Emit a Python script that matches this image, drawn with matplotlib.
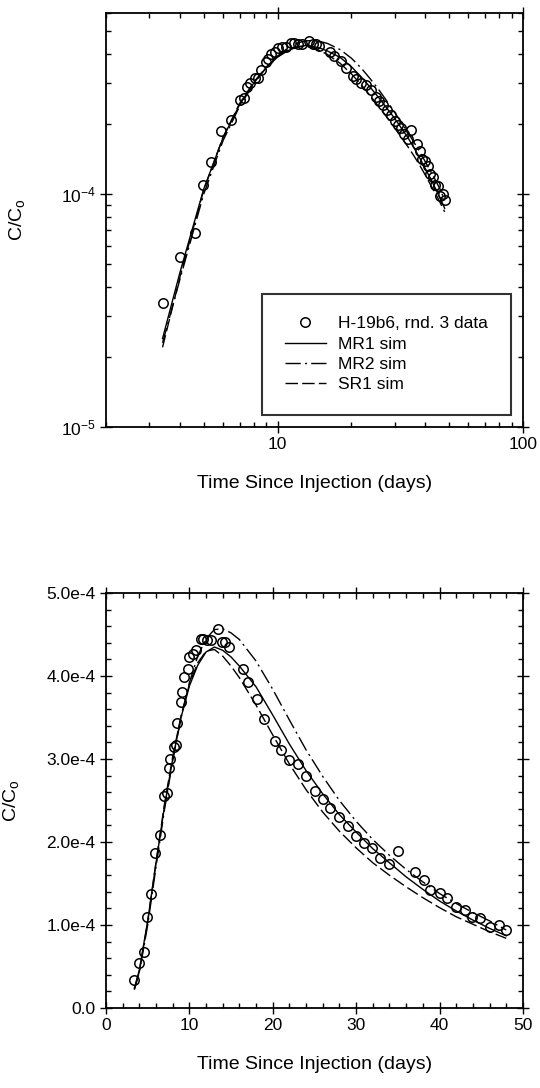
import numpy as np
import matplotlib
matplotlib.use('Agg')
import matplotlib.pyplot as plt
from matplotlib.ticker import FixedLocator, FuncFormatter, LogLocator, NullFormatter, MultipleLocator

plt.rcParams['font.family'] = ['Liberation Sans', 'DejaVu Sans']
plt.rcParams['mathtext.fontset'] = 'custom'
plt.rcParams['mathtext.rm'] = 'Liberation Sans'
plt.rcParams['mathtext.it'] = 'Liberation Sans:italic'

# measured data (C/Co in units of 1e-4)
t_data = [3.4, 4.0, 4.6, 4.96, 5.37, 5.87, 6.49, 7.0, 7.3, 7.5,
          7.7, 8.1, 8.35, 8.55, 8.97, 9.17, 9.38, 9.8, 10.0, 10.4,
          10.8, 11.4, 11.65, 12.07, 12.56, 13.4, 13.9, 14.3, 14.75, 16.4,
          17.0, 18.06, 19.0, 20.3, 20.95, 21.9, 23.0, 23.97, 25.1, 26.0,
          26.9, 28.0, 29.0, 30.0, 30.9, 31.9, 32.9, 34.0, 35.0, 37.1,
          38.1, 38.9, 40.0, 40.9, 42.0, 43.1, 43.9, 44.9, 46.0, 47.1, 48.0]
c_data = [0.34, 0.54, 0.68, 1.10, 1.38, 1.87, 2.09, 2.55, 2.59, 2.89,
          3.00, 3.15, 3.17, 3.43, 3.69, 3.81, 3.99, 4.09, 4.23, 4.27,
          4.31, 4.45, 4.45, 4.43, 4.43, 4.57, 4.41, 4.41, 4.35, 4.09,
          3.93, 3.72, 3.48, 3.22, 3.11, 2.99, 2.94, 2.80, 2.62, 2.52,
          2.41, 2.30, 2.19, 2.07, 1.99, 1.93, 1.81, 1.73, 1.89, 1.64,
          1.54, 1.42, 1.39, 1.32, 1.22, 1.18, 1.10, 1.08, 0.98, 1.00, 0.94]

# simulations
t_sim = [3.4, 4, 5, 6, 7, 8, 9, 10, 11, 12, 13, 14, 15, 16, 18, 20,
         22, 24, 26, 28, 30, 32, 34, 36, 38, 40, 42, 44, 46, 48]
mr1 = [0.24, 0.46, 1.05, 1.75, 2.42, 3.00, 3.50, 3.88, 4.13, 4.29, 4.35, 4.31, 4.23, 4.12, 3.87, 3.53,
       3.18, 2.86, 2.58, 2.33, 2.12, 1.92, 1.75, 1.58, 1.43, 1.29, 1.17, 1.06, 0.96, 0.87]
mr2 = [0.23, 0.43, 1.00, 1.70, 2.38, 2.98, 3.50, 3.92, 4.24, 4.45, 4.56, 4.57, 4.52, 4.44, 4.18, 3.84,
       3.47, 3.11, 2.79, 2.50, 2.25, 2.03, 1.84, 1.67, 1.52, 1.38, 1.26, 1.15, 1.05, 0.94]
sr1 = [0.22, 0.44, 1.04, 1.76, 2.45, 3.03, 3.52, 3.90, 4.16, 4.30, 4.32, 4.24, 4.12, 3.98, 3.65, 3.29,
       2.94, 2.63, 2.36, 2.13, 1.93, 1.75, 1.60, 1.46, 1.33, 1.21, 1.10, 1.01, 0.92, 0.84]

labels = ['H-19b6, rnd. 3 data', 'MR1 sim', 'MR2 sim', 'SR1 sim']

scale = 1e-4
td = np.array(t_data)
cd = np.array(c_data) * scale
ts = np.array(t_sim)


def draw(ax):
    ax.plot(ts, np.array(mr1) * scale, color='black', lw=1.0, label=labels[1])
    ax.plot(ts, np.array(mr2) * scale, color='black', lw=1.0, dashes=(11, 3, 1.5, 3), label=labels[2])
    ax.plot(ts, np.array(sr1) * scale, color='black', lw=1.0, dashes=(9, 3), label=labels[3])
    ax.plot(td, cd, 'o', mfc='none', mec='black', mew=1.1, ms=6.8, label=labels[0])
    for s in ax.spines.values():
        s.set_linewidth(1.3)
    ax.tick_params(which='both', top=True, right=True, labelsize=12.5, width=1.0)
    ax.tick_params(which='major', direction='inout', length=8)
    ax.tick_params(which='minor', direction='in', length=3.5)


fig = plt.figure(figsize=(5.4, 10.88), dpi=100)

# top panel: log-log
ax1 = fig.add_axes([0.1963, 0.6075, 0.772, 0.3805])
draw(ax1)
ax1.set_xscale('log')
ax1.set_yscale('log')
ax1.set_xlim(2, 100)
ax1.set_ylim(1e-5, 6e-4)
ax1.xaxis.set_major_locator(FixedLocator([10, 100]))
ax1.xaxis.set_major_formatter(FuncFormatter(lambda v, p: '%d' % v))
ax1.xaxis.set_minor_locator(LogLocator(base=10, subs=np.arange(2, 10)))
ax1.xaxis.set_minor_formatter(NullFormatter())
ax1.yaxis.set_major_locator(FixedLocator([1e-5, 1e-4]))
ax1.yaxis.set_major_formatter(FuncFormatter(lambda v, p: r'$10^{%d}$' % round(np.log10(v))))
ax1.yaxis.set_minor_locator(LogLocator(base=10, subs=np.arange(2, 10)))
ax1.yaxis.set_minor_formatter(NullFormatter())
ax1.set_xlabel('Time Since Injection (days)', fontsize=14, labelpad=16)
ax1.set_ylabel(r'C/C$_{\mathrm{o}}$', fontsize=14)
ax1.yaxis.set_label_coords(-0.19, 0.5)

h, l = ax1.get_legend_handles_labels()
order = [3, 0, 1, 2]
leg = ax1.legend([h[i] for i in order], [l[i] for i in order], loc='lower right',
                 bbox_to_anchor=(0.971, 0.029), fontsize=12.5, frameon=True, fancybox=False,
                 edgecolor='black', borderpad=1.3, labelspacing=0.3, handlelength=2.4,
                 handletextpad=0.7, numpoints=1, borderaxespad=0)
leg.get_frame().set_linewidth(1.5)

# bottom panel: linear
ax2 = fig.add_axes([0.1963, 0.0735, 0.772, 0.3814])
draw(ax2)
ax2.set_xlim(0, 50)
ax2.set_ylim(0, 5e-4)
ax2.xaxis.set_major_locator(MultipleLocator(10))
ax2.xaxis.set_minor_locator(MultipleLocator(2))
ax2.yaxis.set_major_locator(MultipleLocator(1e-4))
ax2.yaxis.set_minor_locator(MultipleLocator(0.2e-4))
ax2.yaxis.set_major_formatter(FuncFormatter(lambda v, p: '0.0' if v == 0 else '%.1fe-4' % (v / 1e-4)))
ax2.set_xlabel('Time Since Injection (days)', fontsize=14, labelpad=16)
ax2.set_ylabel(r'C/C$_{\mathrm{o}}$', fontsize=14)
ax2.yaxis.set_label_coords(-0.205, 0.5)

fig.savefig('out.png', dpi=100)
